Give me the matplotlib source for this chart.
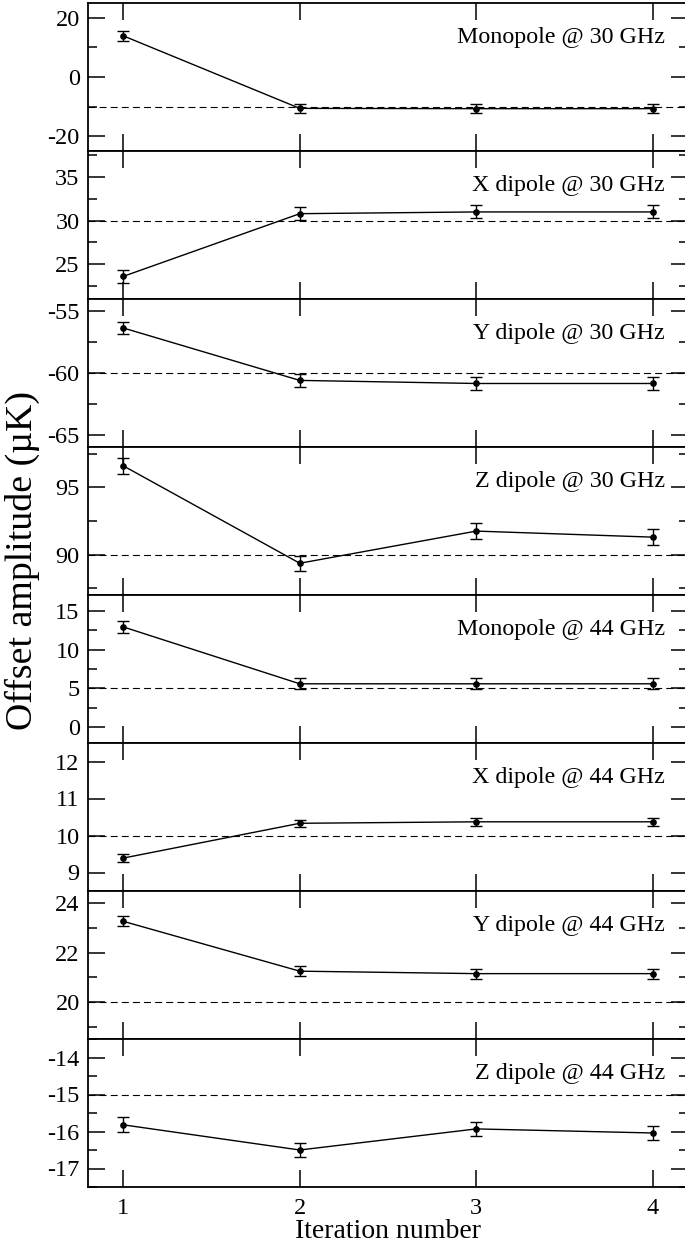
import matplotlib
matplotlib.use("Agg")
import matplotlib.pyplot as plt
from matplotlib.ticker import MultipleLocator, NullLocator

plt.rcParams['font.family'] = ['Liberation Serif', 'DejaVu Serif']
plt.rcParams['axes.unicode_minus'] = False
plt.rcParams['lines.scale_dashes'] = False

# iteration numbers
iters = [1, 2, 3, 4]

# panel labels
labels = ['Monopole @ 30 GHz', 'X dipole @ 30 GHz', 'Y dipole @ 30 GHz', 'Z dipole @ 30 GHz',
          'Monopole @ 44 GHz', 'X dipole @ 44 GHz', 'Y dipole @ 44 GHz', 'Z dipole @ 44 GHz']

# estimated offsets per iteration
mono30 = [13.9, -10.6, -10.7, -10.7]
xdip30 = [23.6, 30.8, 31.0, 31.0]
ydip30 = [-56.35, -60.6, -60.85, -60.85]
zdip30 = [96.6, 89.36, 91.75, 91.3]
mono44 = [12.9, 5.6, 5.6, 5.6]
xdip44 = [9.39, 10.33, 10.37, 10.37]
ydip44 = [23.27, 21.25, 21.15, 21.15]
zdip44 = [-15.82, -16.5, -15.93, -16.04]

# error bars
err30 = [1.6, 0.75, 0.5, 0.57]
err44 = [0.72, 0.1, 0.2, 0.2]

# input (true) values, dashed lines
truth = [-10, 30, -60, 90, 5, 10, 20, -15]

series = [mono30, xdip30, ydip30, zdip30, mono44, xdip44, ydip44, zdip44]
errs = err30 + err44

ylims = [(-25, 25), (21, 38), (-66, -54), (87, 98), (-2, 17), (8.5, 12.5), (18.5, 24.5), (-17.5, -13.5)]
majors = [20, 5, 5, 5, 5, 1, 2, 1]
minors = [10, 2.5, 2.5, 2.5, 2.5, None, 1, 0.5]

fig, axes = plt.subplots(8, 1, figsize=(6.85, 12.43), dpi=100, sharex=True)
fig.subplots_adjust(left=88/685, right=688/685, top=1-3/1243, bottom=1-1187/1243, hspace=0)

for i, ax in enumerate(axes):
    ax.axhline(truth[i], color='black', lw=0.8, dashes=(5, 3))
    ax.errorbar(iters, series[i], yerr=errs[i], color='black', lw=1.0, elinewidth=1.0,
                marker='o', ms=3.8, capsize=4, capthick=1.0)
    ax.set_xlim(0.8, 4.2)
    ax.set_ylim(*ylims[i])
    ax.yaxis.set_major_locator(MultipleLocator(majors[i]))
    if minors[i] is None:
        ax.yaxis.set_minor_locator(NullLocator())
    else:
        ax.yaxis.set_minor_locator(MultipleLocator(minors[i]))
    ax.xaxis.set_major_locator(MultipleLocator(1))
    ax.xaxis.set_minor_locator(NullLocator())
    ax.tick_params(which='both', direction='in', top=True, right=True, width=1.1, labelsize=17.5)
    ax.tick_params(which='major', length=12, pad=6)
    ax.tick_params(which='minor', length=6.5)
    for s in ax.spines.values():
        s.set_linewidth(1.3)
    ax.text(0.962, 0.764, labels[i], transform=ax.transAxes, ha='right', va='center', fontsize=17.3)

axes[-1].set_xticks(iters)
axes[-1].tick_params(axis='x', pad=8)
axes[-1].set_xlabel('Iteration number', fontsize=20, labelpad=0)
fig.text(22/685, 1 - 561/1243, 'Offset amplitude (µK)', rotation=90, ha='center', va='center', fontsize=27.3)

fig.savefig('out.png', dpi=100)
